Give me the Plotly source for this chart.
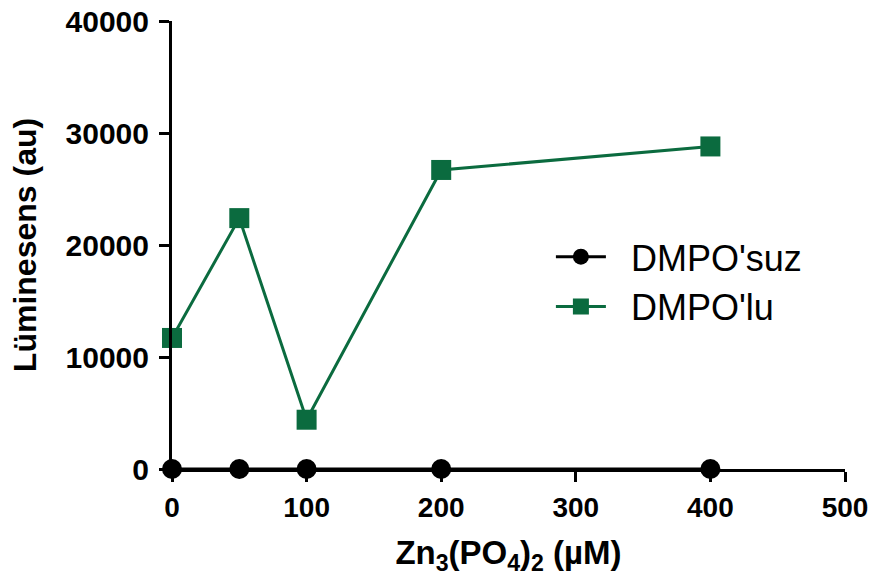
import plotly.graph_objects as go

concentrations = [0, 50, 100, 200, 400]
dmpo_suz = [0, 0, 0, 0, 0]
dmpo_lu = [11700, 22400, 4400, 26700, 28800]
x_ticks = [0, 100, 200, 300, 400, 500]
y_ticks = [0, 10000, 20000, 30000, 40000]
series_names = ["DMPO'suz", "DMPO'lu"]

green = "#0b6b3f"
font_family = "Liberation Sans, Arial, sans-serif"
pad = "&nbsp;&nbsp;"

fig = go.Figure()
fig.add_trace(go.Scatter(
    x=concentrations, y=dmpo_suz, name=pad + series_names[0], mode="lines+markers",
    line=dict(color="black", width=3),
    marker=dict(symbol="circle", size=20, color="black"),
    cliponaxis=False,
))
fig.add_trace(go.Scatter(
    x=concentrations, y=dmpo_lu, name=pad + series_names[1], mode="lines+markers",
    line=dict(color=green, width=3),
    marker=dict(symbol="square", size=20, color=green),
    cliponaxis=False,
))

fig.update_layout(
    width=873, height=580,
    margin=dict(l=172, r=28, t=21, b=111),
    paper_bgcolor="white", plot_bgcolor="white",
    font=dict(family=font_family, color="black"),
    showlegend=True,
    legend=dict(x=0.563, y=0.418, xanchor="left", yanchor="middle",
                font=dict(size=36, family=font_family, color="black"),
                bgcolor="rgba(0,0,0,0)", itemwidth=50),
    xaxis=dict(
        range=[0, 500], tickvals=x_ticks, ticktext=[str(v) for v in x_ticks],
        showline=True, linecolor="black", linewidth=3,
        ticks="outside", ticklen=10, tickwidth=3, tickcolor="black",
        showgrid=False, zeroline=False, automargin=False,
        ticklabelstandoff=1, ticklabeloverflow="allow",
        tickfont=dict(size=28, family=font_family, weight="bold"),
        title=dict(text="<b>Zn<sub>3</sub>(PO<sub>4</sub>)<sub>2</sub> (µM)</b>",
                   font=dict(size=33, family=font_family), standoff=20),
    ),
    yaxis=dict(
        range=[0, 40000], tickvals=y_ticks, ticktext=[str(v) for v in y_ticks],
        showline=True, linecolor="black", linewidth=3,
        ticks="outside", ticklen=10, tickwidth=3, tickcolor="black",
        showgrid=False, zeroline=False, automargin=False,
        ticklabelstandoff=4, ticklabeloverflow="allow",
        tickfont=dict(size=30, family=font_family, weight="bold"),
        title=dict(text="<b>Lüminesens (au)</b>",
                   font=dict(size=32, family=font_family), standoff=20),
    ),
)

# remove the browser's default 8px page margin so the figure fills the window
fig.write_html("out.html", config={"displayModeBar": False},
               post_script="document.body.style.margin='0';")
